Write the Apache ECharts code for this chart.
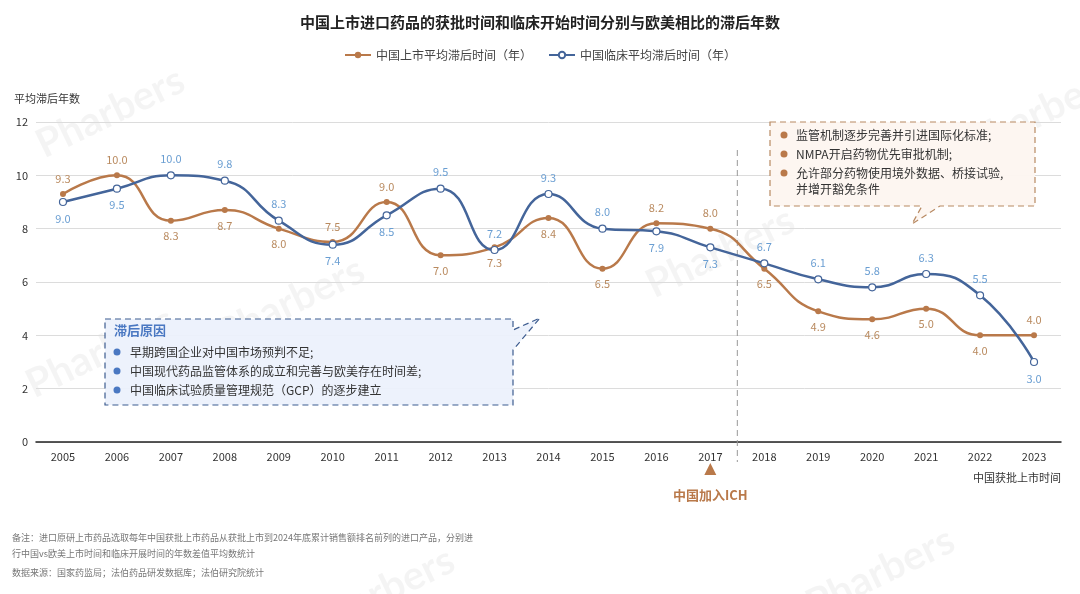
<!DOCTYPE html>
<html>
<head>
<meta charset="utf-8">
<script src="https://cdn.jsdelivr.net/npm/echarts@6/dist/echarts.min.js"></script>
<style>
html, body { margin: 0; padding: 0; background: #fff; }
#main { width: 1080px; height: 594px; }
</style>
</head>
<body>
<div id="main"></div>
<script>
var years = ['2005', '2006', '2007', '2008', '2009', '2010', '2011', '2012', '2013', '2014',
	'2015', '2016', '2017', '2018', '2019', '2020', '2021', '2022', '2023'];
// 中国上市平均滞后时间（年）
var marketLag = [9.3, 10.0, 8.3, 8.7, 8.0, 7.5, 9.0, 7.0, 7.3, 8.4, 6.5, 8.2, 8.0, 6.5, 4.9, 4.6, 5.0, 4.0, 4.0];
// 中国临床平均滞后时间（年）
var clinicalLag = [9.0, 9.5, 10.0, 9.8, 8.3, 7.4, 8.5, 9.5, 7.2, 9.3, 8.0, 7.9, 7.3, 6.7, 6.1, 5.8, 6.3, 5.5, 3.0];
// 标签在上方的点
var marketTop = [0, 1, 5, 6, 11, 12, 18];
var clinicalTop = [2, 3, 4, 7, 8, 9, 10, 13, 14, 15, 16, 17];

var FONT = '"Noto Sans CJK SC", "Noto Sans", sans-serif';
var ORANGE = '#b9794a';
var BLUE = '#44659a';

function buildData(values, topList) {
	return values.map(function(v, i) {
		return {
			value : v,
			label : { position : topList.indexOf(i) >= 0 ? 'top' : 'bottom' }
		};
	});
}

var myChart = echarts.init(document.getElementById('main'));

var option = {
	backgroundColor : '#fff',
	textStyle : { fontFamily : FONT },
	title : {
		text : '中国上市进口药品的获批时间和临床开始时间分别与欧美相比的滞后年数',
		left : 'center',
		top : 10,
		textStyle : { fontSize : 15, fontWeight : 'bold', color : '#222', fontFamily : FONT }
	},
	legend : {
		top : 44,
		left : 'center',
		itemWidth : 26,
		itemHeight : 8,
		itemGap : 16,
		textStyle : { fontSize : 12, color : '#444', fontFamily : FONT },
		data : ['中国上市平均滞后时间（年）', '中国临床平均滞后时间（年）']
	},
	grid : { left : 36, right : 19, top : 122, bottom : 152 },
	xAxis : {
		type : 'category',
		data : years,
		name : '中国获批上市时间',
		nameLocation : 'end',
		nameGap : 0,
		nameTextStyle : { fontSize : 11, color : '#333', align : 'right', verticalAlign : 'top', padding : [30, 0, 0, 0] },
		axisLine : { lineStyle : { color : '#222', width : 1.5 } },
		axisTick : { show : false },
		axisLabel : { fontSize : 11, color : '#333', margin : 9 }
	},
	yAxis : {
		type : 'value',
		min : 0,
		max : 12,
		interval : 2,
		name : '平均滞后年数',
		nameLocation : 'end',
		nameGap : 18,
		nameTextStyle : { fontSize : 11, color : '#333', align : 'left', padding : [0, 0, 0, -22] },
		axisLine : { show : false },
		axisTick : { show : false },
		axisLabel : { fontSize : 11, color : '#333', margin : 8 },
		splitLine : { lineStyle : { color : '#dcdcdc' } }
	},
	series : [ {
		name : '中国上市平均滞后时间（年）',
		type : 'line',
		smooth : 0.5,
		data : buildData(marketLag, marketTop),
		symbol : 'circle',
		symbolSize : 6,
		itemStyle : { color : ORANGE },
		lineStyle : { color : ORANGE, width : 2.5 },
		label : {
			show : true,
			fontSize : 11,
			color : '#b98a5f',
			distance : 7,
			formatter : function(p) { return p.value.toFixed(1); }
		},
		z : 3
	}, {
		name : '中国临床平均滞后时间（年）',
		type : 'line',
		smooth : 0.5,
		data : buildData(clinicalLag, clinicalTop),
		symbol : 'circle',
		symbolSize : 7,
		itemStyle : { color : '#fff', borderColor : BLUE, borderWidth : 1.2 },
		lineStyle : { color : BLUE, width : 2.5 },
		label : {
			show : true,
			fontSize : 11,
			color : '#6a9ed2',
			distance : 7,
			formatter : function(p) { return p.value.toFixed(1); }
		},
		z : 4
	} ],
	graphic : []
};

myChart.setOption(option);

// 2017 与 2018 之间的分隔线
var x17 = myChart.convertToPixel({ xAxisIndex : 0 }, '2017');
var x18 = myChart.convertToPixel({ xAxisIndex : 0 }, '2018');
var midX = (x17 + x18) / 2;

var watermarks = [
	[30, 60], [210, 250], [640, 200], [960, 60], [300, 540], [800, 520], [20, 300]
];

var graphics = [];
watermarks.forEach(function(w) {
	graphics.push({
		type : 'text', left : w[0], top : w[1], rotation : Math.PI / 7, silent : true, z : 0,
		style : { text : 'Pharbers', fontSize : 40, fontWeight : 'bold', fontFamily : 'Lato, sans-serif', fill : 'rgba(0,0,0,0.045)' }
	});
});

graphics.push({
	type : 'line', silent : true, z : 1,
	shape : { x1 : midX, y1 : 150, x2 : midX, y2 : 462 },
	style : { stroke : '#999', lineWidth : 1, lineDash : [6, 4] }
});
// ICH 标记
graphics.push({
	type : 'polygon', silent : true,
	shape : { points : [ [x17 - 6, 475], [x17 + 6, 475], [x17, 463] ] },
	style : { fill : ORANGE }
});
graphics.push({
	type : 'text', silent : true,
	x : x17, y : 489,
	style : { text : '中国加入ICH', fontSize : 13, fontWeight : 'bold', fill : ORANGE, fontFamily : FONT, textAlign : 'center' }
});

// 左侧注释框
graphics.push({
	type : 'polygon', silent : true, z : 10,
	shape : { points : [ [105, 319], [513, 319], [513, 330], [540, 318], [513, 350], [513, 405], [105, 405] ] },
	style : { fill : 'rgba(236,241,252,0.92)', stroke : '#3d5c8f', lineWidth : 1.2, lineDash : [6, 4] }
});
graphics.push({
	type : 'text', silent : true, z : 11, x : 114, y : 324,
	style : { text : '滞后原因', fontSize : 13, fontWeight : 'bold', fill : '#4a78c2', fontFamily : FONT }
});
['早期跨国企业对中国市场预判不足;', '中国现代药品监管体系的成立和完善与欧美存在时间差;', '中国临床试验质量管理规范（GCP）的逐步建立'].forEach(function(t, i) {
	var y = 352 + i * 19;
	graphics.push({ type : 'circle', silent : true, z : 11, shape : { cx : 117, cy : y, r : 3.5 }, style : { fill : '#4a78c2' } });
	graphics.push({
		type : 'text', silent : true, z : 11, x : 130, y : y,
		style : { text : t, fontSize : 12, fill : '#333', fontFamily : FONT, textVerticalAlign : 'middle' }
	});
});

// 右侧注释框
graphics.push({
	type : 'polygon', silent : true, z : 10,
	shape : { points : [ [770, 122], [1035, 122], [1035, 206], [940, 206], [912, 224], [922, 206], [770, 206] ] },
	style : { fill : 'rgba(253,246,240,0.95)', stroke : '#b88a63', lineWidth : 1.2, lineDash : [6, 4] }
});
[['监管机制逐步完善并引进国际化标准;'], ['NMPA开启药物优先审批机制;'], ['允许部分药物使用境外数据、桥接试验,', '并增开豁免条件']].forEach(function(t, i) {
	var y = 135 + i * 19;
	graphics.push({ type : 'circle', silent : true, z : 11, shape : { cx : 784, cy : y, r : 3.5 }, style : { fill : '#b9794a' } });
	graphics.push({
		type : 'text', silent : true, z : 11, x : 796, y : y - 8,
		style : { text : t.join('\n'), fontSize : 12, lineHeight : 16, fill : '#333', fontFamily : FONT }
	});
});

// 备注
graphics.push({
	type : 'text', silent : true, left : 12, top : 530,
	style : { text : '备注：进口原研上市药品选取每年中国获批上市药品从获批上市到2024年底累计销售额排名前列的进口产品，分别进\n行中国vs欧美上市时间和临床开展时间的年数差值平均数统计',
		fontSize : 9, lineHeight : 16, fill : '#777', fontFamily : FONT }
});
graphics.push({
	type : 'text', silent : true, left : 12, top : 568,
	style : { text : '数据来源：国家药监局；法伯药品研发数据库；法伯研究院统计', fontSize : 9, fill : '#777', fontFamily : FONT }
});

myChart.setOption({ graphic : graphics });
</script>
</body>
</html>
